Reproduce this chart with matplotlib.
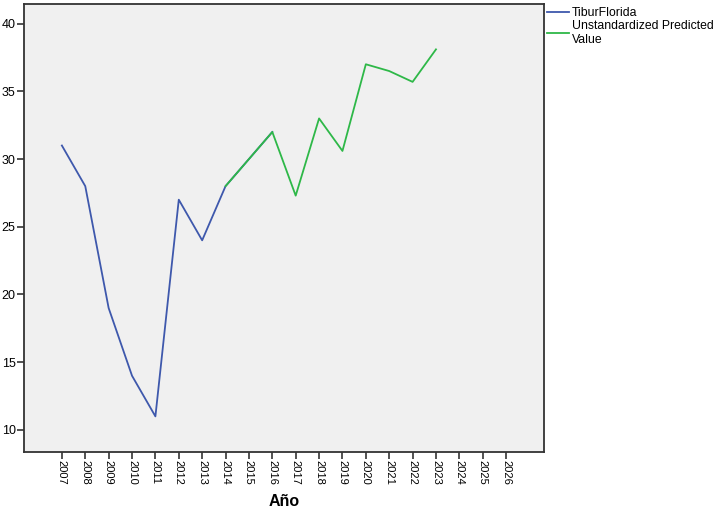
import matplotlib.pyplot as plt
import numpy as np

plt.rcParams['font.family'] = ['Liberation Sans', 'DejaVu Sans']

# eje x: años (categorías)
years = list(range(2007, 2027))
# serie observada
obs_years = [2007, 2008, 2009, 2010, 2011, 2012, 2013, 2014, 2015, 2016]
tibur = [31, 28, 19, 14, 11, 27, 24, 28, 30, 32]
# valores predichos
pred_years = [2014, 2015, 2016, 2017, 2018, 2019, 2020, 2021, 2022, 2023]
pred = [28, 30, 32, 27.3, 33.0, 30.6, 37.0, 36.5, 35.7, 38.1]
yticks = [10, 15, 20, 25, 30, 35, 40]

fig = plt.figure(figsize=(7.28, 5.14), dpi=100)
ax = fig.add_axes([24/728, 1-452/514, (544-24)/728, (452-4)/514])
ax.set_facecolor('#f0f0f0')

l1, = ax.plot(obs_years, tibur, color='#3e58ac', lw=1.3)
l2, = ax.plot(pred_years, pred, color='#2eb848', lw=1.3)

ax.set_xlim(2007 - 1.62, 2026 + 1.62)
ax.set_ylim(8.37, 41.45)
ax.set_xticks(years)
ax.set_xticklabels([str(y) for y in years], rotation=270, fontsize=8)
ax.set_yticks(yticks)
ax.set_yticklabels([str(v) for v in yticks], fontsize=9)
ax.tick_params(direction='out', length=5, width=1.2, color='#333333', pad=1)
for s in ax.spines.values():
    s.set_color('#333333')
    s.set_linewidth(1.3)

fig.text(284/728, 1-502/514, 'Año', fontsize=11.5, fontweight='bold',
         ha='center', va='center')

ax.legend([l1, l2], ['TiburFlorida', 'Unstandardized Predicted\nValue'],
          loc='upper left', bbox_to_anchor=(1.0, 1.0), frameon=False,
          fontsize=8.8, handlelength=1.8, handletextpad=0.2, borderaxespad=0.1,
          borderpad=0.15, labelspacing=0.1)

plt.savefig('out.png', dpi=100)
